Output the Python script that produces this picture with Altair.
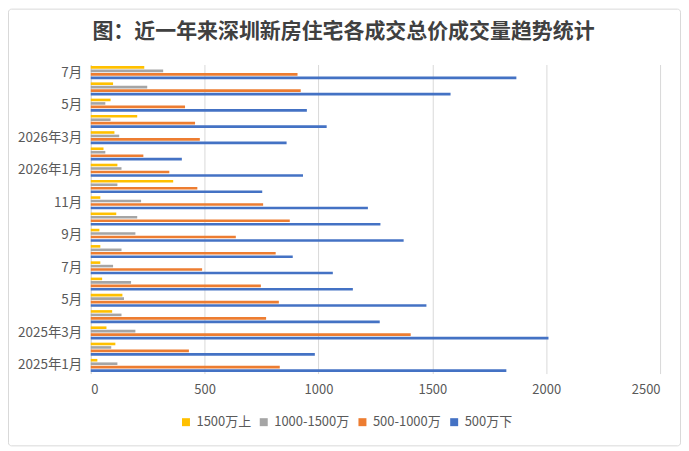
import pandas as pd
import altair as alt

# months, bottom of the chart first
months = ["2025-01", "2025-02", "2025-03", "2025-04", "2025-05", "2025-06",
          "2025-07", "2025-08", "2025-09", "2025-10", "2025-11", "2025-12",
          "2026-01", "2026-02", "2026-03", "2026-04", "2026-05", "2026-06",
          "2026-07"]
month_labels = ["2025年1月", "", "2025年3月", "", "5月", "", "7月", "", "9月", "",
                "11月", "", "2026年1月", "", "2026年3月", "", "5月", "", "7月"]

series = ["1500万上", "1000-1500万", "500-1000万", "500万下"]
colors = ["#FFC000", "#A5A5A5", "#ED7D31", "#4472C4"]

over_1500 = [29, 108, 69, 94, 139, 50, 42, 42, 38, 112, 42, 362,
             117, 56, 104, 204, 87, 98, 235]
r1000_1500 = [117, 90, 196, 135, 146, 177, 98, 135, 196, 204, 221, 117,
              135, 64, 125, 87, 64, 248, 318]
r500_1000 = [830, 431, 1405, 770, 826, 747, 489, 812, 637, 874, 757, 468,
             345, 231, 479, 458, 414, 922, 908]
under_500 = [1825, 984, 2010, 1269, 1474, 1151, 1063, 887, 1374, 1272, 1217, 753,
             932, 400, 860, 1036, 949, 1580, 1869]

title_text = "图：近一年来深圳新房住宅各成交总价成交量趋势统计"

rows = []
for name, vals in zip(series, [over_1500, r1000_1500, r500_1000, under_500]):
    for m, v in zip(months, vals):
        rows.append({"month": m, "series": name, "value": v})
data = pd.DataFrame(rows)

label_map = "{" + ",".join(f"'{m}':'{l}'" for m, l in zip(months, month_labels)) + "}"

FONT = "Noto Sans CJK SC"
W, H = 571, 310

bars = alt.Chart(data).mark_bar().encode(
    x=alt.X("value:Q", scale=alt.Scale(domain=[0, 2500]),
            axis=alt.Axis(values=[0, 500, 1000, 1500, 2000, 2500], title=None,
                          format="d", domain=False, ticks=False, labelPadding=10,
                          gridColor="#d9d9d9", labelFontSize=13,
                          labelColor="#595959", labelFont=FONT)),
    y=alt.Y("month:N", sort=months[::-1],
            scale=alt.Scale(paddingInner=0.2, paddingOuter=0.1),
            axis=alt.Axis(title=None, ticks=False, domainColor="#d9d9d9",
                          labelExpr=label_map + "[datum.value]",
                          labelOverlap=False, labelPadding=9,
                          labelFontSize=13.5, labelColor="#595959",
                          labelFont=FONT)),
    yOffset=alt.YOffset("series:N", sort=series,
                        scale=alt.Scale(paddingInner=0.25)),
    color=alt.Color("series:N", scale=alt.Scale(domain=series, range=colors),
                    legend=alt.Legend(title=None, orient="none", direction="horizontal",
                                      legendX=89, legendY=352,
                                      symbolType="square", symbolSize=64,
                                      labelFontSize=13, labelColor="#595959",
                                      labelFont=FONT, columnPadding=6,
                                      symbolStrokeWidth=0)),
)

one = pd.DataFrame({"a": [0]})

# outer frame of the chart
frame = alt.Chart(one).mark_rect(
    fill=None, stroke="#d9d9d9", strokeWidth=1, cornerRadius=3
).encode(
    x=alt.value(-82.5), x2=alt.value(W + 20.5),
    y=alt.value(-55.5), y2=alt.value(H + 72.5)
)

title = alt.Chart(one).mark_text(
    text=title_text, font=FONT, fontSize=21, fontWeight="bold",
    color="#404040", align="center", baseline="middle"
).encode(x=alt.value(253.5), y=alt.value(-33))

chart = alt.layer(frame, title, bars).properties(
    width=W, height=H,
    padding={"left": 83, "top": 56, "right": 21, "bottom": 74},
    autosize=alt.AutoSizeParams(type="none"),
).configure_view(stroke=None)

chart.save("out.html", embed_options={"renderer": "svg", "actions": False})
